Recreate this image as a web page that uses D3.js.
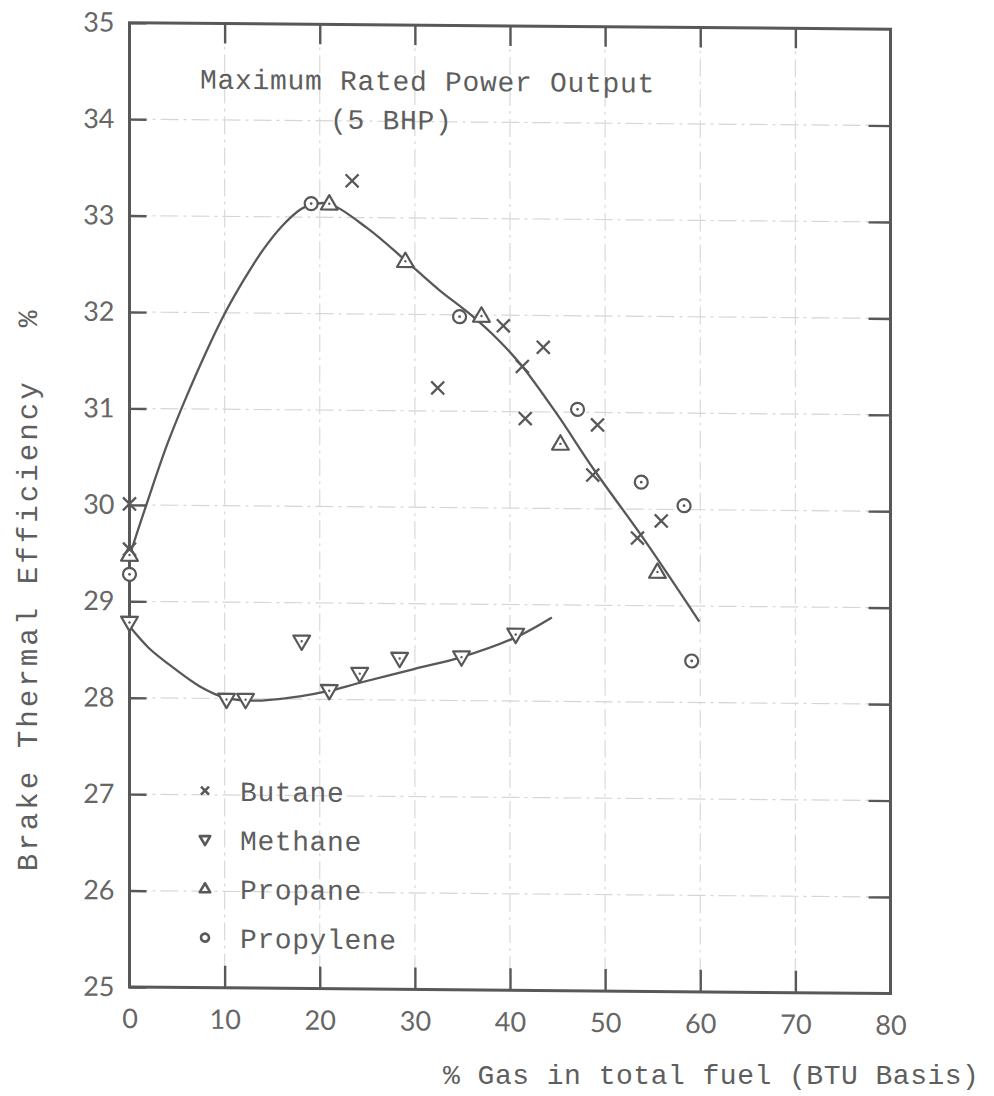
<!DOCTYPE html>
<html><head><meta charset="utf-8">
<script src="https://cdn.jsdelivr.net/npm/d3@7"></script>
<style>body{margin:0;background:#fff}</style>
</head><body>
<svg id="chart" width="994" height="1096"></svg>
<script>
// ---- data ----
const xTicks = [0, 10, 20, 30, 40, 50, 60, 70, 80];
const yTicks = [25, 26, 27, 28, 29, 30, 31, 32, 33, 34, 35];
const gridX = [10, 20, 30, 40, 50, 60, 70];
const gridY = [26, 27, 28, 29, 30, 31, 32, 33, 34];

const butaneX = [0, 0, 23.4, 39.3, 43.5, 41.3, 32.4, 41.6, 49.2, 48.7, 55.9, 53.4];
const butaneY = [30.01, 29.54, 33.38, 31.89, 31.67, 31.47, 31.24, 30.93, 30.87, 30.35, 29.88, 29.70];

const methaneX = [0, 10.2, 12.2, 18.1, 21.0, 24.2, 28.4, 34.9, 40.6];
const methaneY = [28.78, 27.99, 27.99, 28.60, 28.09, 28.27, 28.43, 28.45, 28.69];

const propaneX = [0, 21.0, 29.0, 37.0, 45.3, 55.5];
const propaneY = [29.48, 33.14, 32.55, 31.99, 30.67, 29.35];

const propyleneX = [0, 19.1, 34.7, 47.1, 53.8, 58.3, 59.1];
const propyleneY = [29.28, 33.14, 31.98, 31.03, 30.28, 30.04, 28.43];

const fitPeakX = [0, 2, 4, 6, 8, 10, 12, 14, 16, 18, 19.1, 21, 25, 29, 32.5, 35.9, 38.7, 41.3, 45, 48.8, 54, 59.9];
const fitPeakY = [29.47, 30.07, 30.64, 31.13, 31.58, 31.99, 32.34, 32.65, 32.90, 33.08, 33.13, 33.14, 32.89, 32.56, 32.26, 32.0, 31.75, 31.47, 30.97, 30.41, 29.70, 28.84];

const fitMethaneX = [0, 2, 4, 7.45, 10, 13, 17.9, 21.1, 24, 29.8, 34.9, 40.6, 44.4];
const fitMethaneY = [28.74, 28.52, 28.36, 28.12, 28.01, 27.98, 28.03, 28.09, 28.17, 28.32, 28.45, 28.66, 28.87];

const legendNames = ["Butane", "Methane", "Propane", "Propylene"];
const legendSymbols = ["cross", "down", "up", "circle"];
const titleLines = ["Maximum Rated Power Output", "(5 BHP)"];
const xLabel = "% Gas in total fuel (BTU Basis)";
const yLabel = "Brake Thermal Efficiency";

// ---- drawing ----
const ink = "#585858";
const textInk = "#5e5e5e";
const mono = "'Liberation Mono', 'DejaVu Sans Mono', monospace";
const sans = "Lato, 'Open Sans', sans-serif";

const svg = d3.select("#chart");
svg.append("rect").attr("width", 994).attr("height", 1096).attr("fill", "#fff");

const x = d3.scaleLinear().domain([0, 80]).range([129.5, 890.5]);
const y = d3.scaleLinear().domain([25, 35]).range([987, 22.7]);
const sk = 0.0085;
const g = svg.append("g").attr("transform", `matrix(1,${sk},0,1,0,${-sk * 129.5})`);

// grid
g.append("g").selectAll("line").data(gridY).join("line")
  .attr("x1", x(0)).attr("x2", x(80)).attr("y1", d => y(d)).attr("y2", d => y(d))
  .attr("stroke", "#d6d6d6").attr("stroke-width", 1.2).attr("stroke-dasharray", "18,5,3,5");
g.append("g").selectAll("line").data(gridX).join("line")
  .attr("y1", y(35)).attr("y2", y(25)).attr("x1", d => x(d)).attr("x2", d => x(d))
  .attr("stroke", "#dadada").attr("stroke-width", 1.2).attr("stroke-dasharray", "18,5,3,5");

// axes
function styleAxis(sel) {
  sel.select(".domain").remove();
  sel.selectAll(".tick line").attr("stroke", ink).attr("stroke-width", 2.4);
  sel.selectAll(".tick text").attr("fill", "#666").attr("font-family", sans).attr("font-size", 27);
}
g.append("g").attr("transform", `translate(${x(0)},0)`)
  .call(d3.axisLeft(y).tickValues(yTicks).tickSizeInner(-17).tickSizeOuter(0).tickPadding(15).tickFormat(d3.format("d")))
  .call(styleAxis);
g.append("g").attr("transform", `translate(${x(80)},0)`)
  .call(d3.axisRight(y).tickValues(gridY).tickSizeInner(-22).tickSizeOuter(0).tickFormat(""))
  .call(styleAxis);
g.append("g").attr("transform", `translate(0,${y(35)})`)
  .call(d3.axisTop(x).tickValues(gridX).tickSizeInner(-20).tickSizeOuter(0).tickFormat(""))
  .call(styleAxis);
const bx = g.append("g").attr("transform", `translate(0,${y(25)})`)
  .call(d3.axisBottom(x).tickValues(xTicks).tickSizeInner(-22).tickSizeOuter(0).tickPadding(22).tickFormat(d3.format("d")))
  .call(styleAxis);
bx.selectAll(".tick").filter(d => d === 0 || d === 80).select("line").remove();

// frame
g.append("rect").attr("x", x(0)).attr("y", y(35)).attr("width", x(80) - x(0)).attr("height", y(25) - y(35))
  .attr("fill", "none").attr("stroke", ink).attr("stroke-width", 3);

// fitted curves
const line = d3.line().x(d => x(d[0])).y(d => y(d[1])).curve(d3.curveCatmullRom.alpha(0.5));
g.append("path").datum(d3.zip(fitPeakX, fitPeakY)).attr("d", line)
  .attr("fill", "none").attr("stroke", ink).attr("stroke-width", 2.3);
g.append("path").datum(d3.zip(fitMethaneX, fitMethaneY)).attr("d", line)
  .attr("fill", "none").attr("stroke", ink).attr("stroke-width", 2.3);

// markers
function drawMarker(sel, type, s, sw, dot) {
  sel.each(function () {
    const m = d3.select(this);
    if (type === "cross") {
      m.append("path").attr("d", `M${-s},${-s}L${s},${s}M${-s},${s}L${s},${-s}`)
        .attr("stroke", ink).attr("stroke-width", sw).attr("fill", "none");
    } else if (type === "circle") {
      m.append("circle").attr("r", s).attr("fill", "#fff").attr("stroke", ink).attr("stroke-width", sw);
      if (dot) m.append("circle").attr("r", 1.4).attr("fill", ink);
    } else {
      const h = s * 1.8, w = s * 1.05;
      const d = type === "up"
        ? `M0,${-h * 0.6}L${w},${h * 0.4}L${-w},${h * 0.4}Z`
        : `M0,${h * 0.6}L${w},${-h * 0.4}L${-w},${-h * 0.4}Z`;
      m.append("path").attr("d", d).attr("fill", "#fff").attr("stroke", ink).attr("stroke-width", sw).attr("stroke-linejoin", "round");
      if (dot) m.append("circle").attr("r", 1.2).attr("fill", ink);
    }
  });
}
function series(xs, ys, type, s, sw) {
  const gg = g.append("g");
  gg.selectAll("g").data(d3.zip(xs, ys)).join("g")
    .attr("transform", d => `translate(${x(d[0])},${y(d[1])})`)
    .call(sel => drawMarker(sel, type, s, sw, true));
}
series(methaneX, methaneY, "down", 8, 2.2);
series(propaneX, propaneY, "up", 8, 2.2);
series(propyleneX, propyleneY, "circle", 6.5, 2.2);
series(butaneX, butaneY, "cross", 6.5, 2.3);

// legend
const lg = g.append("g");
const legY = [790, 839, 888, 937];
legendNames.forEach((name, i) => {
  const row = lg.append("g").attr("transform", `translate(205,${legY[i]})`);
  const s = legendSymbols[i] === "cross" ? 4 : (legendSymbols[i] === "circle" ? 4 : 5);
  drawMarker(row, legendSymbols[i], s, 2.6, false);
  row.append("text").attr("x", 35).attr("y", 10).text(name)
    .attr("font-family", mono).attr("font-size", 28).attr("letter-spacing", 0.6).attr("fill", textInk);
});

// title
g.append("text").attr("x", 200).attr("y", 88).text(titleLines[0])
  .attr("font-family", mono).attr("font-size", 28).attr("letter-spacing", 0.7).attr("fill", textInk);
g.append("text").attr("x", 330).attr("y", 127).text(titleLines[1])
  .attr("font-family", mono).attr("font-size", 28).attr("letter-spacing", 0.7).attr("fill", textInk);

// axis titles
svg.append("text").attr("x", 443).attr("y", 1084).text(xLabel)
  .attr("font-family", mono).attr("font-size", 28).attr("letter-spacing", 0.5).attr("fill", textInk);
g.append("text").attr("transform", "translate(37,872) rotate(-90)").text(yLabel)
  .attr("font-family", mono).attr("font-size", 29).attr("letter-spacing", 3.1).attr("fill", textInk);
g.append("text").attr("transform", "translate(37,328) rotate(-90)").text("%")
  .attr("font-family", mono).attr("font-size", 28).attr("fill", textInk);
</script>
</body></html>
